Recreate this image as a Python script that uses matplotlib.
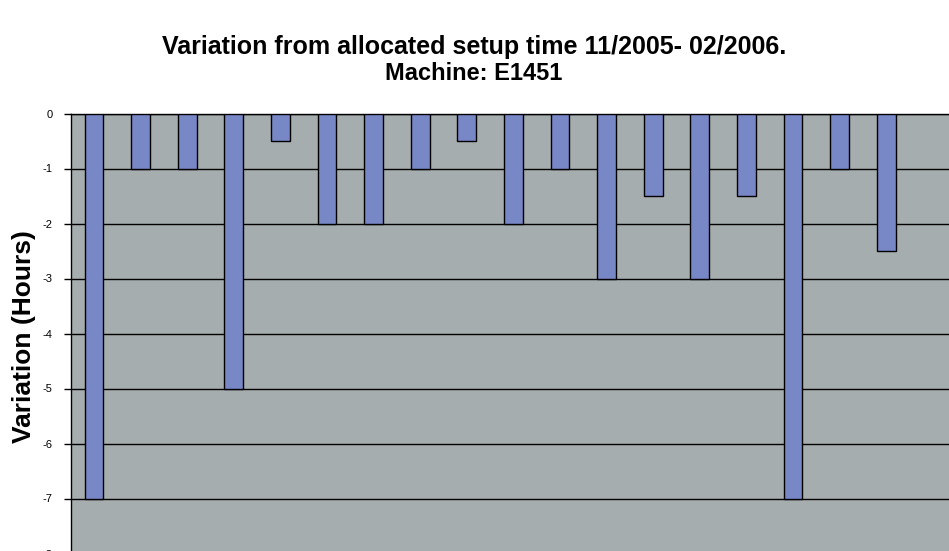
import matplotlib
matplotlib.use('Agg')
import matplotlib.pyplot as plt

plt.rcParams['font.family'] = ['Liberation Sans', 'DejaVu Sans']

jobs = list(range(1, 19))
variation = [-7, -1, -1, -5, -0.5, -2, -2, -1, -0.5, -2, -1, -3, -1.5, -3, -1.5, -7, -1, -2.5]
yticks = [0, -1, -2, -3, -4, -5, -6, -7, -8]

W, H = 949, 551
fig = plt.figure(figsize=(W / 100, H / 100), dpi=100)

# plot area runs past the right and bottom edges in the original
px_left, px_top = 70.7, 113.5
px_unit = 55.0      # pixels per hour
px_cat = 46.6       # pixels per category
px_right = 960
ax = fig.add_axes([px_left / W, (H - (px_top + 8 * px_unit)) / H,
                   (px_right - px_left) / W, 8 * px_unit / H])

ax.set_facecolor('#a6adae')
ax.bar(range(len(jobs)), variation, width=0.4, color='#7887c6',
       edgecolor='black', linewidth=1.0, zorder=3)

ax.set_ylim(-8, 0)
ax.set_xlim(-0.5, -0.5 + (px_right - px_left) / px_cat)
ax.set_yticks(yticks)
ax.set_yticklabels([str(v) for v in yticks], fontsize=8)
ax.tick_params(axis='y', direction='out', length=5, width=1, pad=8)
ax.set_xticks([])
ax.yaxis.grid(True, color='black', linewidth=1.0, zorder=0)
ax.set_axisbelow(True)
for s in ['right', 'bottom']:
    ax.spines[s].set_visible(False)
ax.spines['left'].set_linewidth(1.0)
ax.spines['top'].set_linewidth(1.0)

ax.set_ylabel('Variation (Hours)', fontsize=19, fontweight='bold')
ax.yaxis.set_label_coords(-(px_left - 36) / (px_right - px_left),
                          (px_top + 8 * px_unit - 337) / (8 * px_unit))

fig.text(474 / W, 1 - 47 / H,
         'Variation from allocated setup time 11/2005- 02/2006.',
         ha='center', va='center', fontsize=18, fontweight='bold')
fig.text(474 / W, 1 - 74 / H, 'Machine: E1451',
         ha='center', va='center', fontsize=17, fontweight='bold')

fig.savefig('out.png', dpi=100)
